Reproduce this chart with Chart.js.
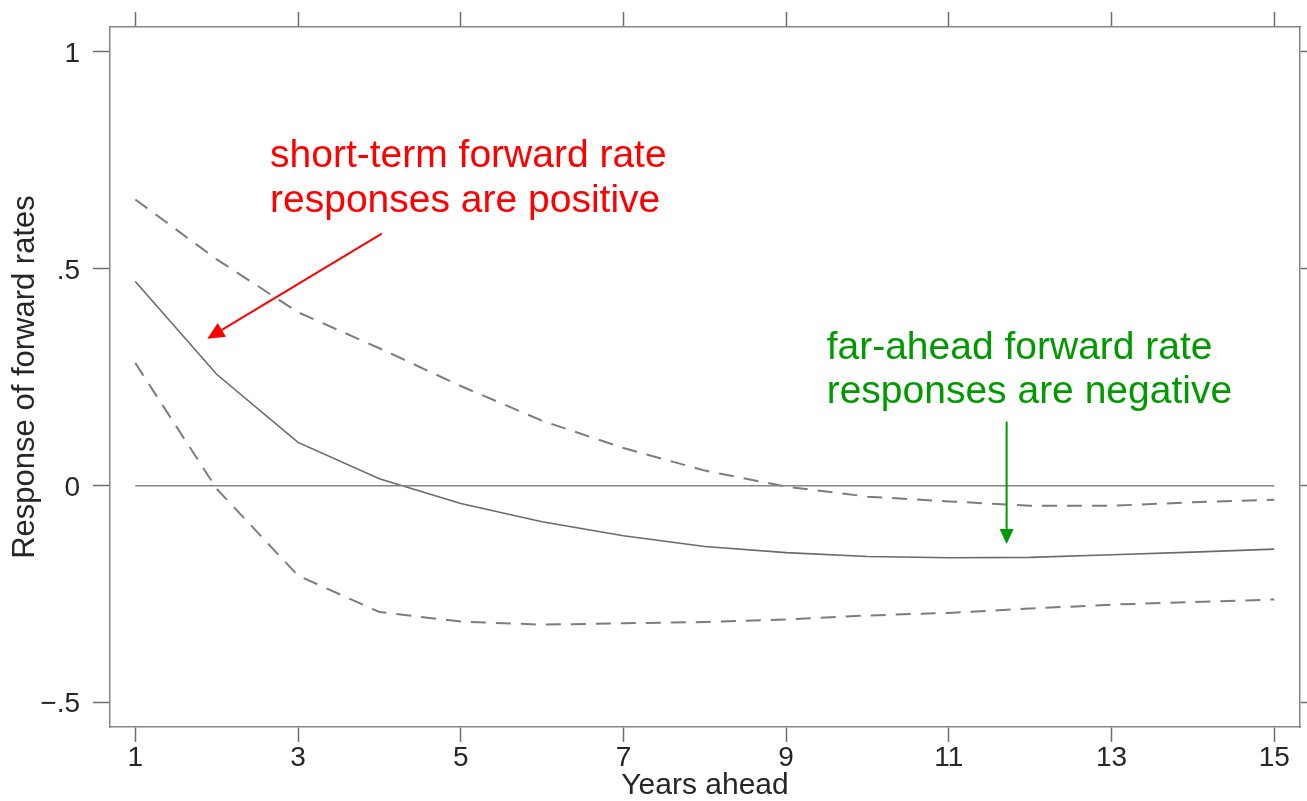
<!DOCTYPE html>
<html>
<head>
<meta charset="utf-8">
<script src="https://cdn.jsdelivr.net/npm/chart.js@4.4.1/dist/chart.umd.min.js"></script>
<style>
  html, body { margin: 0; padding: 0; background: #ffffff; }
  #wrap { width: 1307px; height: 801px; }
</style>
</head>
<body>
<div id="wrap"><canvas id="c" width="1307" height="801"></canvas></div>
<script>
// Horizon in years and the estimated forward-rate responses
const years = [1, 2, 3, 4, 5, 6, 7, 8, 9, 10, 11, 12, 13, 14, 15];
const response = [0.471, 0.257, 0.100, 0.016, -0.041, -0.083, -0.115, -0.140, -0.154, -0.163, -0.166, -0.165, -0.159, -0.153, -0.146];
const upperBand = [0.660, 0.522, 0.400, 0.317, 0.230, 0.150, 0.087, 0.035, -0.002, -0.025, -0.036, -0.046, -0.046, -0.038, -0.032];
const lowerBand = [0.283, -0.007, -0.207, -0.291, -0.313, -0.320, -0.317, -0.314, -0.308, -0.299, -0.293, -0.283, -0.274, -0.268, -0.262];
const zeroLine = [0, 0, 0, 0, 0, 0, 0, 0, 0, 0, 0, 0, 0, 0, 0];

// Axis ticks and their printed labels
const xTickValues = [1, 3, 5, 7, 9, 11, 13, 15];
const yTickValues = [-0.5, 0, 0.5, 1];
const yTickLabels = ['\u2212.5', '0', '.5', '1'];

// Callout texts
const shortNote = ['short-term forward rate', 'responses are positive'];
const farNote = ['far-ahead forward rate', 'responses are negative'];

const FONT = '"Liberation Sans", Arial, Helvetica, sans-serif';
const INK = '#262626';
const AXIS = '#858585';

const toPoints = arr => years.map((yr, i) => ({ x: yr, y: arr[i] }));

const X_MIN = 0.689, X_MAX = 15.316;
const Y_MIN = -0.556, Y_MAX = 1.0575;

function setTicks(values) {
  return scale => { scale.ticks = values.map(v => ({ value: v })); };
}

const gridStyle = {
  drawOnChartArea: false,
  drawTicks: true,
  tickLength: 15,
  tickColor: '#6e6e6e',
  tickWidth: 1.5,
  color: '#6e6e6e'
};
const borderStyle = { display: true, color: AXIS, width: 1.5 };

// Callouts: wrapped text plus an arrow, anchored in data units
function drawArrow(ctx, x0, y0, x1, y1, color, headLen, headHalf) {
  const ang = Math.atan2(y1 - y0, x1 - x0);
  const bx = x1 - headLen * Math.cos(ang);
  const by = y1 - headLen * Math.sin(ang);
  ctx.strokeStyle = color;
  ctx.fillStyle = color;
  ctx.lineWidth = 2;
  ctx.beginPath();
  ctx.moveTo(x0, y0);
  ctx.lineTo(bx, by);
  ctx.stroke();
  ctx.beginPath();
  ctx.moveTo(x1, y1);
  ctx.lineTo(bx + headHalf * Math.sin(ang), by - headHalf * Math.cos(ang));
  ctx.lineTo(bx - headHalf * Math.sin(ang), by + headHalf * Math.cos(ang));
  ctx.closePath();
  ctx.fill();
}

const calloutPlugin = {
  id: 'callouts',
  afterDatasetsDraw(chart) {
    const { ctx, scales: { x, y } } = chart;
    const px = v => x.getPixelForValue(v);
    const py = v => y.getPixelForValue(v);
    ctx.save();
    ctx.font = '39px ' + FONT;
    ctx.textAlign = 'left';
    ctx.textBaseline = 'alphabetic';

    ctx.fillStyle = '#ff0000';
    ctx.fillText(shortNote[0], px(2.656), py(0.7356));
    ctx.fillText(shortNote[1], px(2.656), py(0.632));
    drawArrow(ctx, px(4.03), py(0.581), px(1.885), py(0.339), '#ff0000', 17, 8);

    ctx.fillStyle = '#009a00';
    ctx.fillText(farNote[0], px(9.498), py(0.292));
    ctx.fillText(farNote[1], px(9.498), py(0.191));
    drawArrow(ctx, px(11.71), py(0.148), px(11.71), py(-0.134), '#009a00', 15, 7);
    ctx.restore();
  }
};

new Chart(document.getElementById('c'), {
  type: 'line',
  data: {
    datasets: [
      {
        data: toPoints(zeroLine),
        borderColor: '#858585',
        borderWidth: 1.5,
        pointRadius: 0,
        tension: 0
      },
      {
        data: toPoints(upperBand),
        borderColor: '#7c7c7c',
        borderWidth: 2,
        borderDash: [15, 10],
        pointRadius: 0,
        tension: 0
      },
      {
        data: toPoints(lowerBand),
        borderColor: '#7c7c7c',
        borderWidth: 2,
        borderDash: [15, 10],
        pointRadius: 0,
        tension: 0
      },
      {
        data: toPoints(response),
        borderColor: '#6a6a6a',
        borderWidth: 1.6,
        pointRadius: 0,
        tension: 0
      }
    ]
  },
  options: {
    responsive: false,
    animation: false,
    events: [],
    layout: { padding: 0 },
    plugins: { legend: { display: false }, tooltip: { enabled: false } },
    scales: {
      x: {
        type: 'linear', axis: 'x', position: 'bottom',
        min: X_MIN, max: X_MAX,
        afterBuildTicks: setTicks(xTickValues),
        afterFit: s => { s.height = 74; },
        ticks: {
          color: INK, padding: 2, maxRotation: 0, autoSkip: false,
          font: { family: FONT, size: 28, lineHeight: 1 },
          callback: v => String(v)
        },
        grid: gridStyle,
        border: borderStyle,
        title: {
          display: true, text: 'Years ahead', color: INK,
          font: { family: FONT, size: 30, lineHeight: 1 },
          padding: { top: 0, bottom: 0 }
        }
      },
      x2: {
        type: 'linear', axis: 'x', position: 'top',
        min: X_MIN, max: X_MAX,
        afterBuildTicks: setTicks(xTickValues),
        afterFit: s => { s.height = 25; },
        ticks: { display: false },
        grid: gridStyle,
        border: borderStyle
      },
      y: {
        type: 'linear', axis: 'y', position: 'left',
        min: Y_MIN, max: Y_MAX,
        afterBuildTicks: setTicks(yTickValues),
        afterFit: s => { s.width = 110; },
        ticks: {
          color: INK, padding: 13, labelOffset: 2,
          font: { family: FONT, size: 28, lineHeight: 1 },
          callback: v => yTickLabels[yTickValues.indexOf(v)]
        },
        grid: Object.assign({}, gridStyle, { tickLength: 17 }),
        border: borderStyle,
        title: {
          display: true, text: 'Response of forward rates', color: INK,
          font: { family: FONT, size: 31, lineHeight: 1 },
          padding: { top: 10, bottom: 0 }
        }
      },
      y2: {
        type: 'linear', axis: 'y', position: 'right',
        min: Y_MIN, max: Y_MAX,
        afterBuildTicks: setTicks(yTickValues),
        afterFit: s => { s.width = 7; },
        ticks: { display: false },
        grid: gridStyle,
        border: borderStyle
      }
    }
  },
  plugins: [calloutPlugin]
});
</script>
</body>
</html>
